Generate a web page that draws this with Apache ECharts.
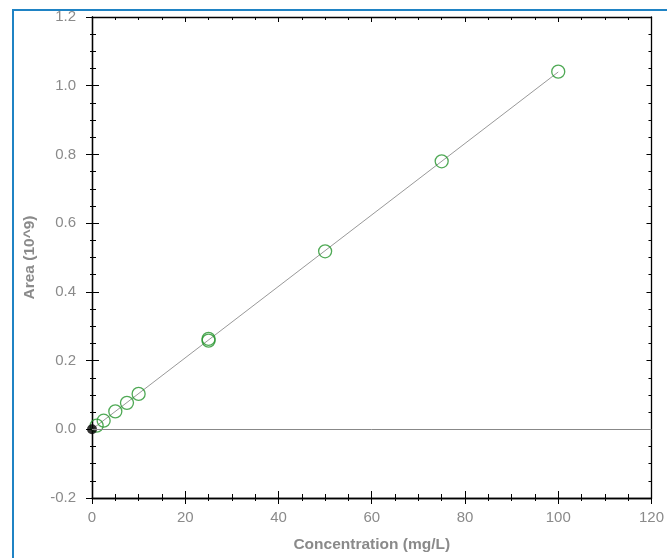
<!DOCTYPE html>
<html>
<head>
<meta charset="utf-8">
<script src="https://cdn.jsdelivr.net/npm/echarts@6/dist/echarts.min.js"></script>
<style>
  html, body { margin: 0; padding: 0; background: #fff; }
  #main { width: 667px; height: 558px; }
</style>
</head>
<body>
<div id="main"></div>
<script>
// calibration standards (concentration mg/L -> area 10^9)
var stdConc = [1, 2.5, 5, 7.5, 10, 25, 25, 50, 75, 100];
var stdArea = [0.0105, 0.025, 0.052, 0.077, 0.103, 0.258, 0.263, 0.518, 0.780, 1.041];

// blank
var blankConc = [0];
var blankArea = [0];

// fitted line end points
var fitConc = [0, 100];
var fitArea = [0, 1.04];

var xTicks = [0, 20, 40, 60, 80, 100, 120];
var yTicks = [-0.2, 0.0, 0.2, 0.4, 0.6, 0.8, 1.0, 1.2];

function pairs(xs, ys) {
  return xs.map(function (x, i) { return [x, ys[i]]; });
}

var font = 'Liberation Sans, Arial, sans-serif';
var labelStyle = { color: '#8a8a8a', fontSize: 15, fontFamily: font };
var titleStyle = { color: '#8a8a8a', fontSize: 15.5, fontWeight: 'bold', fontFamily: font };
var axisLine = { show: true, onZero: false, lineStyle: { color: '#000', width: 1.3 } };

// x axes: bottom (inside ticks + labels), bottom overlay (outside ticks), top (inside ticks)
function xAx(extra) {
  return Object.assign({
    type: 'value',
    min: xTicks[0], max: xTicks[xTicks.length - 1], interval: 20,
    splitLine: { show: false },
    axisLine: axisLine
  }, extra);
}
function yAx(extra) {
  return Object.assign({
    type: 'value',
    min: yTicks[0], max: yTicks[yTicks.length - 1], interval: 0.2,
    splitLine: { show: false },
    axisLine: axisLine
  }, extra);
}

var myChart = echarts.init(document.getElementById('main'));

var option = {
  animation: false,
  backgroundColor: '#fff',
  grid: { left: 92, right: 14, top: 17, bottom: 58 },
  graphic: [
    { type: 'line', shape: { x1: 13, y1: 10, x2: 13, y2: 558 }, style: { stroke: '#1f83c4', lineWidth: 2 }, z: 100 },
    { type: 'line', shape: { x1: 12, y1: 10, x2: 667, y2: 10 }, style: { stroke: '#1f83c4', lineWidth: 2 }, z: 100 }
  ],
  xAxis: [
    xAx({
      position: 'bottom',
      name: 'Concentration (mg/L)',
      nameLocation: 'middle',
      nameGap: 39,
      nameTextStyle: titleStyle,
      axisTick: { show: true, inside: true, length: 7, lineStyle: { color: '#000' } },
      minorTick: { show: true, splitNumber: 4, length: 4, lineStyle: { color: '#000' } },
      axisLabel: Object.assign({ margin: 12 }, labelStyle)
    }),
    xAx({
      position: 'bottom',
      axisTick: { show: true, inside: false, length: 6, lineStyle: { color: '#000' } },
      minorTick: { show: true, splitNumber: 4, length: 3, lineStyle: { color: '#000' } },
      axisLabel: { show: false }
    }),
    xAx({
      position: 'top',
      axisTick: { show: true, inside: true, length: 5, lineStyle: { color: '#000' } },
      minorTick: { show: true, splitNumber: 4, length: 3, lineStyle: { color: '#000' } },
      axisLabel: { show: false }
    })
  ],
  yAxis: [
    yAx({
      position: 'left',
      name: 'Area (10^9)',
      nameLocation: 'middle',
      nameGap: 54,
      nameTextStyle: titleStyle,
      axisTick: { show: true, inside: true, length: 7, lineStyle: { color: '#000' } },
      minorTick: { show: true, splitNumber: 4, length: 4, lineStyle: { color: '#000' } },
      axisLabel: Object.assign({
        margin: 16,
        formatter: function (v) { return v.toFixed(1); }
      }, labelStyle)
    }),
    yAx({
      position: 'left',
      offset: 0,
      axisTick: { show: true, inside: false, length: 6, lineStyle: { color: '#000' } },
      minorTick: { show: true, splitNumber: 4, length: 2, lineStyle: { color: '#000' } },
      axisLabel: { show: false }
    }),
    yAx({
      position: 'right',
      axisTick: { show: true, inside: true, length: 5, lineStyle: { color: '#000' } },
      minorTick: { show: true, splitNumber: 4, length: 3, lineStyle: { color: '#000' } },
      axisLabel: { show: false }
    })
  ],
  series: [
    {
      name: 'fit',
      type: 'line',
      xAxisIndex: 0, yAxisIndex: 0,
      data: pairs(fitConc, fitArea),
      showSymbol: false,
      symbol: 'none',
      lineStyle: { color: '#999', width: 1 },
      markLine: {
        silent: true,
        symbol: 'none',
        label: { show: false },
        lineStyle: { color: '#888', width: 1, type: 'solid' },
        data: [{ yAxis: 0 }]
      },
      z: 2
    },
    {
      name: 'standards',
      type: 'scatter',
      xAxisIndex: 0, yAxisIndex: 0,
      data: pairs(stdConc, stdArea),
      symbol: 'circle',
      symbolSize: 13,
      itemStyle: { color: 'rgba(0,0,0,0)', borderColor: '#23932a', borderWidth: 1.3 },
      z: 3
    },
    {
      name: 'blank',
      type: 'scatter',
      xAxisIndex: 0, yAxisIndex: 0,
      data: pairs(blankConc, blankArea),
      symbol: 'circle',
      symbolSize: 10,
      itemStyle: { color: '#000' },
      z: 4
    }
  ]
};

myChart.setOption(option);
</script>
</body>
</html>
